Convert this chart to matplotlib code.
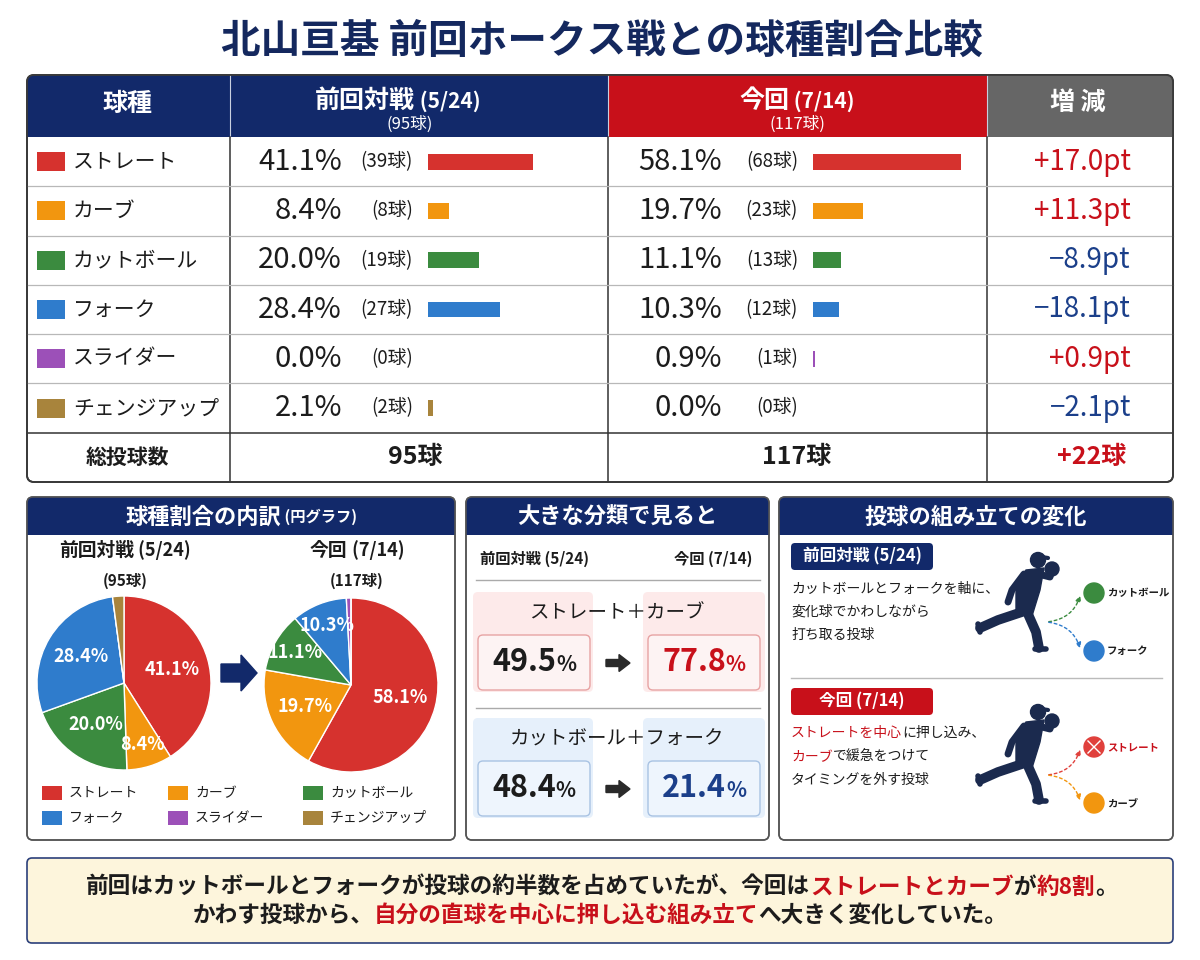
import math
import matplotlib
matplotlib.use('Agg')
import matplotlib.pyplot as plt
from matplotlib.patches import FancyBboxPatch, Rectangle, Circle, FancyArrow, FancyArrowPatch, Polygon

plt.rcParams['font.family'] = ['Noto Sans CJK JP', 'DejaVu Sans']

# data
pitch_types = ['ストレート', 'カーブ', 'カットボール', 'フォーク', 'スライダー', 'チェンジアップ']
type_colors = ['#d6322e', '#f2960f', '#3b8b3f', '#2f7ccc', '#9c50b8', '#a8843c']
prev_pct = [41.1, 8.4, 20.0, 28.4, 0.0, 2.1]
prev_cnt = [39, 8, 19, 27, 0, 2]
now_pct = [58.1, 19.7, 11.1, 10.3, 0.9, 0.0]
now_cnt = [68, 23, 13, 12, 1, 0]
delta_pt = [17.0, 11.3, -8.9, -18.1, 0.9, -2.1]
prev_total = 95
now_total = 117

group_names = ['ストレート＋カーブ', 'カットボール＋フォーク']
group_prev = [49.5, 48.4]
group_now = [77.8, 21.4]

NAVY = '#12296a'
RED = '#c8101a'
DNAVY = '#1b3f8a'
INK = '#1c1c1c'

W, H = 1200, 960
fig = plt.figure(figsize=(12, 9.6), dpi=100)
ax = fig.add_axes([0, 0, 1, 1])
ax.set_xlim(0, W)
ax.set_ylim(H, 0)
ax.axis('off')
renderer = fig.canvas.get_renderer()


def px_axes(x0, y0, w, h):
    return fig.add_axes([x0 / W, 1 - (y0 + h) / H, w / W, h / H])


def rich(x, y, parts, ha='center', va='center', z=6):
    # parts: (text, size, color, weight)
    objs = []
    for s, size, color, weight in parts:
        objs.append(ax.text(x, y, s, fontsize=size, color=color, fontweight=weight,
                            ha='left', va=va, zorder=z))
    widths = [t.get_window_extent(renderer).width for t in objs]
    total = sum(widths)
    start = {'center': x - total / 2, 'right': x - total, 'left': x}[ha]
    for t, w in zip(objs, widths):
        t.set_x(start)
        start += w


def txt(x, y, s, size, color=INK, weight='normal', ha='center', va='center', z=6):
    ax.text(x, y, s, fontsize=size, color=color, fontweight=weight, ha=ha, va=va, zorder=z)


# ---- title
txt(602, 41, '北山亘基 前回ホークス戦との球種割合比較', 28.5, '#14285e', 'bold')

# ---- table
col = [27, 230, 608, 987, 1173]
top, head_b, bot = 75, 137, 482
row_h = (bot - head_b) / 7
outer = FancyBboxPatch((27, top), 1146, bot - top, boxstyle='round,pad=0,rounding_size=7',
                       fc='white', ec='#3a3a3a', lw=1.3, zorder=1)
ax.add_patch(outer)
for (a, b), c in zip([(27, 230), (230, 608), (608, 987), (987, 1173)],
                     [NAVY, NAVY, RED, '#666666']):
    r = Rectangle((a, top), b - a, head_b - top, fc=c, ec='none', zorder=2)
    ax.add_patch(r)
    r.set_clip_path(outer)
ax.add_patch(FancyBboxPatch((27, top), 1146, bot - top, boxstyle='round,pad=0,rounding_size=7',
                            fill=False, ec='#3a3a3a', lw=1.3, zorder=4))
for x in col[1:4]:
    ax.plot([x, x], [top, head_b], color='#c9d0e0', lw=0.8, zorder=3)
    ax.plot([x, x], [head_b, bot], color='#333333', lw=1.1, zorder=3)
for i in range(1, 6):
    y = head_b + row_h * i
    ax.plot([27, 1173], [y, y], color='#b8b8b8', lw=0.9, zorder=3)
ax.plot([27, 1173], [head_b + row_h * 6] * 2, color='#333333', lw=1.1, zorder=3)

txt(128, 104, '球種', 18, 'white', 'bold')
rich(398, 108, [('前回対戦', 18, 'white', 'bold'), (' (5/24)', 15, 'white', 'bold')], va='baseline')
txt(410, 124, f'({prev_total}球)', 12, 'white')
rich(797, 108, [('今回', 18, 'white', 'bold'), (' (7/14)', 15, 'white', 'bold')], va='baseline')
txt(797, 124, f'({now_total}球)', 12, 'white')
txt(1078, 103, '増 減', 18, 'white', 'bold')

for i, name in enumerate(pitch_types):
    yc = head_b + row_h * (i + 0.5)
    ax.add_patch(Rectangle((37, yc - 9.5), 28, 19, fc=type_colors[i], ec='none', zorder=5))
    txt(73, yc, name, 15, INK, ha='left')
    txt(342, yc, f'{prev_pct[i]:.1f}%', 21, INK, ha='right')
    txt(413, yc, f'({prev_cnt[i]}球)', 13.5, INK, ha='right')
    txt(722, yc, f'{now_pct[i]:.1f}%', 21, INK, ha='right')
    txt(798, yc, f'({now_cnt[i]}球)', 13.5, INK, ha='right')
    d = delta_pt[i]
    txt(1131, yc, f'{d:+.1f}pt'.replace('-', '−'), 20, RED if d > 0 else DNAVY, ha='right')

yt = head_b + row_h * 6.5
txt(127, yt, '総投球数', 15, INK, 'bold')
txt(415, yt, f'{prev_total}球', 18, INK, 'bold')
txt(797, yt, f'{now_total}球', 18, INK, 'bold')
txt(1092, yt, f'{now_total - prev_total:+d}球', 18, RED, 'bold')

# bars inside the table
for x0, vals in [(428, prev_pct), (813, now_pct)]:
    bax = px_axes(x0, head_b, 165, row_h * 6)
    bax.barh(range(6), vals, height=0.32, color=type_colors)
    bax.set_ylim(5.5, -0.5)
    bax.set_xlim(0, 165 / 2.55)
    bax.axis('off')


# ---- panels
def panel(x0, y0, w, h):
    body = FancyBboxPatch((x0, y0), w, h, boxstyle='round,pad=0,rounding_size=6',
                          fc='white', ec='#555555', lw=1.1, zorder=1)
    ax.add_patch(body)
    hd = Rectangle((x0, y0), w, 38, fc=NAVY, ec='none', zorder=2)
    ax.add_patch(hd)
    hd.set_clip_path(body)
    ax.add_patch(FancyBboxPatch((x0, y0), w, h, boxstyle='round,pad=0,rounding_size=6',
                                fill=False, ec='#555555', lw=1.1, zorder=4))


panel(27, 497, 428, 343)
panel(466, 497, 303, 343)
panel(779, 497, 394, 343)
rich(241, 517, [('球種割合の内訳', 16, 'white', 'bold'), (' (円グラフ)', 11, 'white', 'bold')],
     va='center')
txt(617, 517, '大きな分類で見ると', 16, 'white', 'bold')
txt(976, 517, '投球の組み立ての変化', 16, 'white', 'bold')

# pie panel
rich(125, 556, [('前回対戦', 13.5, INK, 'bold'), (' (5/24)', 13, INK, 'bold')], va='baseline')
txt(125, 581, f'({prev_total}球)', 11, INK, 'bold')
rich(357, 556, [('今回', 13.5, INK, 'bold'), (' (7/14)', 13, INK, 'bold')], va='baseline')
txt(357, 581, f'({now_total}球)', 11, INK, 'bold')

for cx, cy, cnts, pcts in [(124, 683, prev_cnt, prev_pct), (351, 685, now_cnt, now_pct)]:
    R = 87
    pax = px_axes(cx - R, cy - R, 2 * R, 2 * R)
    wedges, _ = pax.pie(cnts, colors=type_colors, startangle=90, counterclock=False,
                        wedgeprops=dict(edgecolor='white', linewidth=1.0))
    pax.set_xlim(-1, 1)
    pax.set_ylim(-1, 1)
    pax.set_aspect('equal')
    pax.axis('off')
    for w, p in zip(wedges, pcts):
        if p < 5:
            continue
        ang = math.radians((w.theta1 + w.theta2) / 2)
        rr = 0.58 if p >= 15 else 0.74
        pax.text(rr * math.cos(ang), rr * math.sin(ang), f'{p:.1f}%', color='white',
                 fontsize=13, fontweight='bold', ha='center', va='center')

ax.add_patch(FancyArrow(221, 673, 36, 0, width=18, head_width=36, head_length=16,
                        length_includes_head=True, color=NAVY, zorder=5))

leg_x = [42, 168, 303]
leg_y = [793, 818]
for i, name in enumerate(pitch_types):
    x = leg_x[i % 3]
    y = leg_y[i // 3]
    ax.add_patch(Rectangle((x, y - 7), 20, 14, fc=type_colors[i], ec='none', zorder=5))
    txt(x + 27, y, name, 10, INK, ha='left')

# group panel
txt(480, 559, '前回対戦 (5/24)', 11, INK, 'bold', ha='left')
txt(752, 559, '今回 (7/14)', 11, INK, 'bold', ha='right')
ax.plot([476, 760], [580, 580], color='#aaaaaa', lw=1, zorder=3)
ax.plot([476, 760], [708, 708], color='#aaaaaa', lw=1, zorder=3)
styles = [('#fdeaea', '#fdf3f3', '#e7a3a3', RED), ('#e6f0fb', '#eef5fd', '#a9c3e3', DNAVY)]
for k, name in enumerate(group_names):
    yb = 592 + k * 126
    bg, fc, ec, ncol = styles[k]
    for bx, bw in [(473, 120), (643, 122)]:
        ax.add_patch(FancyBboxPatch((bx, yb), bw, 100, boxstyle='round,pad=0,rounding_size=5',
                                    fc=bg, ec='none', zorder=2))
    for bx in [478, 648]:
        ax.add_patch(FancyBboxPatch((bx, yb + 43), 112, 55, boxstyle='round,pad=0,rounding_size=5',
                                    fc=fc, ec=ec, lw=1.0, zorder=3))
    txt(617, yb + 21, name, 14, INK, ha='center')
    rich(534, yb + 79, [(f'{group_prev[k]:.1f}', 22, INK, 'bold'), ('%', 15, INK, 'bold')],
         va='baseline')
    rich(704, yb + 79, [(f'{group_now[k]:.1f}', 22, ncol, 'bold'), ('%', 15, ncol, 'bold')],
         va='baseline')
    ax.add_patch(FancyArrow(606, yb + 71, 24, 0, width=7, head_width=17, head_length=11,
                            length_includes_head=True, color='#2a2a2a', zorder=5))


# pitching panel
def pitcher(hx, hy, c='#1b2a4e'):
    kw = dict(color=c, solid_capstyle='round', solid_joinstyle='round', zorder=5)
    ax.add_patch(Circle((hx, hy), 7.5, color=c, zorder=5))
    ax.plot([hx - 3, hx + 10], [hy - 4, hy - 2], lw=3, **kw)
    ax.add_patch(Circle((hx + 14, hy + 9), 7, color=c, zorder=5))
    ax.add_patch(Polygon([(hx - 12, hy + 10), (hx + 6, hy + 8), (hx + 2, hy + 30),
                          (hx - 6, hy + 56), (hx - 22, hy + 54), (hx - 22, hy + 30)],
                         closed=True, color=c, zorder=5))
    ax.plot([hx, hx + 12, hx + 14], [hy + 14, hy + 17, hy + 9], lw=5, **kw)
    ax.plot([hx - 14, hx - 26, hx - 30], [hy + 14, hy + 30, hy + 42], lw=5, **kw)
    ax.plot([hx - 16, hx - 40, hx - 58], [hy + 52, hy + 60, hy + 68], lw=7, **kw)
    ax.plot([hx - 60, hx - 58], [hy + 64, hy + 72], lw=4, **kw)
    ax.plot([hx - 10, hx - 2, hx + 1], [hy + 54, hy + 72, hy + 88], lw=7, **kw)
    ax.plot([hx - 3, hx + 8], [hy + 89, hy + 89], lw=4, **kw)


def tag(y, label, color):
    ax.add_patch(FancyBboxPatch((791, y), 142, 27, boxstyle='round,pad=0,rounding_size=4',
                                fc=color, ec='none', zorder=3))
    txt(862, y + 13.5, label, 12, 'white', 'bold')


def branch(y_mid, y_top, y_bot, c1, c2, n1, n2, n1col):
    for yy, c in [(y_top, c1), (y_bot, c2)]:
        rad = 0.35 if yy < y_mid else -0.35
        ax.add_patch(FancyArrowPatch((1046, y_mid), (1081, yy), connectionstyle=f'arc3,rad={rad}',
                                     arrowstyle='-|>', mutation_scale=8, color=c, lw=1.0,
                                     linestyle=(0, (2, 2)), zorder=4))
    ax.add_patch(Circle((1094, y_top), 10, color=c1, zorder=5))
    ax.add_patch(Circle((1094, y_bot), 10, color=c2, zorder=5))
    txt(1107, y_top, n1, 7.5, n1col, 'bold', ha='left')
    txt(1107, y_bot, n2, 7.5, INK, 'bold', ha='left')


tag(543, '前回対戦 (5/24)', NAVY)
for j, line in enumerate(['カットボールとフォークを軸に、', '変化球でかわしながら', '打ち取る投球']):
    txt(791, 589 + j * 23, line, 10, INK, ha='left')
pitcher(1038, 560)
branch(622, 593, 651, '#3b8b3f', '#2f7ccc', 'カットボール', 'フォーク', INK)

ax.plot([791, 1162], [678, 678], color='#bbbbbb', lw=1, zorder=3)
tag(688, '今回 (7/14)', RED)
rich(791, 733, [('ストレートを中心', 10, RED, 'normal'), ('に押し込み、', 10, INK, 'normal')],
     ha='left')
rich(791, 757, [('カーブ', 10, RED, 'normal'), ('で緩急をつけて', 10, INK, 'normal')],
     ha='left')
txt(791, 780, 'タイミングを外す投球', 10, INK, ha='left')
pitcher(1038, 712)
branch(775, 747, 803, '#e0403c', '#f2960f', 'ストレート', 'カーブ', RED)
ax.plot([1088, 1100], [741, 753], color='white', lw=1, zorder=6)
ax.plot([1088, 1100], [753, 741], color='white', lw=1, zorder=6)

# ---- summary box
ax.add_patch(FancyBboxPatch((27, 858), 1146, 85, boxstyle='round,pad=0,rounding_size=5',
                            fc='#fdf5dc', ec='#2b3f7a', lw=1.2, zorder=1))
fs = 16.3
rich(602, 887, [('前回はカットボールとフォークが投球の約半数を占めていたが、今回は', fs, INK, 'bold'),
                ('ストレートとカーブ', fs, RED, 'bold'), ('が', fs, INK, 'bold'),
                ('約8割', fs, RED, 'bold'), ('。', fs, INK, 'bold')])
rich(600, 915, [('かわす投球から、', fs, INK, 'bold'),
                ('自分の直球を中心に押し込む組み立て', fs, RED, 'bold'),
                ('へ大きく変化していた。', fs, INK, 'bold')])

fig.savefig('out.png', dpi=100, facecolor='white')
